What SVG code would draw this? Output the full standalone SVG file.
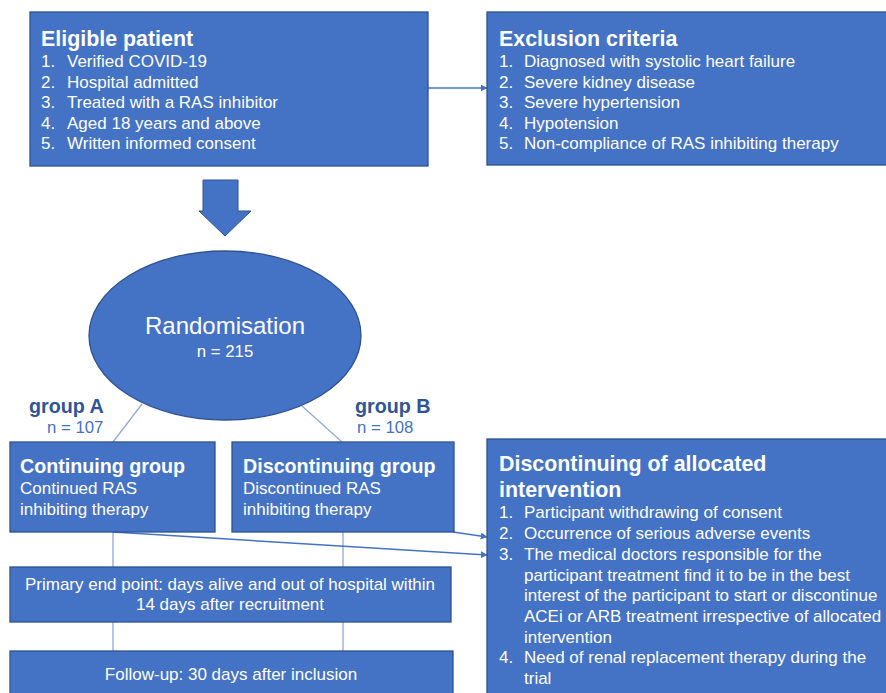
<svg xmlns="http://www.w3.org/2000/svg" width="886" height="693" viewBox="0 0 886 693">
<defs>
<marker id="ah" viewBox="0 0 10 10" refX="9" refY="5" markerWidth="7" markerHeight="7" orient="auto" markerUnits="userSpaceOnUse">
<path d="M0,0 L10,5 L0,10 z" fill="#4472C4"/>
</marker>
</defs>
<style>
.box{fill:#4472C4;stroke:#2F528F;stroke-width:1.3}
.t{font-family:"Liberation Sans",Arial,sans-serif;fill:#fff}
.h{font-size:21.4px;font-weight:bold}
.i{font-size:17px}
.g{font-size:19.7px;font-weight:bold}
.lbl{font-family:"Liberation Sans",Arial,sans-serif}
.c{stroke:#8FAADC;stroke-width:1.3;fill:none}
.a{stroke:#4472C4;stroke-width:1.5;fill:none;marker-end:url(#ah)}
</style>
<rect width="886" height="693" fill="#fff"/>
<g id="connectors">
<line class="a" x1="428" y1="88" x2="487" y2="88"/>
<line class="c" x1="142" y1="404" x2="113" y2="442"/>
<line class="c" x1="302" y1="406" x2="342" y2="442"/>
<line class="c" x1="113" y1="532" x2="113" y2="567"/>
<line class="c" x1="343" y1="532" x2="343" y2="567"/>
<line class="c" x1="113" y1="622" x2="113" y2="651"/>
<line class="c" x1="343" y1="622" x2="343" y2="651"/>
<line class="a" x1="113" y1="532" x2="487" y2="555"/>
<line class="a" x1="453" y1="532" x2="487" y2="537"/>
<path d="M203,180 L238,180 L238,211 L251,211 L225,236 L199,211 L203,211 z" fill="#4472C4" stroke="#2F528F" stroke-width="1"/>
</g>
<g id="eligible">
<rect class="box" x="30" y="12" width="398" height="154"/>
<text class="t h" x="41" y="46">Eligible patient</text>
<text class="t i" x="41" y="67">1.</text><text class="t i" x="67" y="67">Verified COVID-19</text>
<text class="t i" x="41" y="88">2.</text><text class="t i" x="67" y="88">Hospital admitted</text>
<text class="t i" x="41" y="108">3.</text><text class="t i" x="67" y="108">Treated with a RAS inhibitor</text>
<text class="t i" x="41" y="129">4.</text><text class="t i" x="67" y="129">Aged 18 years and above</text>
<text class="t i" x="41" y="149">5.</text><text class="t i" x="67" y="149">Written informed consent</text>
</g>
<g id="exclusion">
<rect class="box" x="487" y="12" width="400" height="153"/>
<text class="t h" x="499" y="46">Exclusion criteria</text>
<text class="t i" x="499" y="67">1.</text><text class="t i" x="524" y="67">Diagnosed with systolic heart failure</text>
<text class="t i" x="499" y="88">2.</text><text class="t i" x="524" y="88">Severe kidney disease</text>
<text class="t i" x="499" y="108">3.</text><text class="t i" x="524" y="108">Severe hypertension</text>
<text class="t i" x="499" y="129">4.</text><text class="t i" x="524" y="129">Hypotension</text>
<text class="t i" x="499" y="149">5.</text><text class="t i" x="524" y="149">Non-compliance of RAS inhibiting therapy</text>
</g>
<g id="randomisation">
<ellipse class="box" cx="225" cy="335.5" rx="136" ry="84.5"/>
<text class="t" x="225" y="334" font-size="24" text-anchor="middle">Randomisation</text>
<text class="t" x="225" y="357" font-size="16.8" text-anchor="middle">n = 215</text>
</g>
<g id="groupA-label">
<text class="lbl g" x="29" y="413" fill="#2F5597">group A</text>
<text class="lbl" x="47" y="433" font-size="16.8" fill="#4472C4">n = 107</text>
</g>
<g id="groupB-label">
<text class="lbl g" x="355" y="413" fill="#2F5597">group B</text>
<text class="lbl" x="357" y="433" font-size="16.8" fill="#4472C4">n = 108</text>
</g>
<g id="continuing">
<rect class="box" x="10" y="442" width="205" height="90"/>
<text class="t g" x="20" y="473">Continuing group</text>
<text class="t i" x="20" y="494">Continued RAS</text>
<text class="t i" x="20" y="515">inhibiting therapy</text>
</g>
<g id="discontinuing">
<rect class="box" x="232" y="442" width="222" height="90"/>
<text class="t g" x="243" y="473">Discontinuing group</text>
<text class="t i" x="243" y="494">Discontinued RAS</text>
<text class="t i" x="243" y="515">inhibiting therapy</text>
</g>
<g id="discontinuation-criteria">
<rect class="box" x="487" y="439" width="400" height="260"/>
<text class="t h" x="499" y="471">Discontinuing of allocated</text>
<text class="t h" x="499" y="497">intervention</text>
<text class="t i" x="499" y="518">1.</text><text class="t i" x="524" y="518">Participant withdrawing of consent</text>
<text class="t i" x="499" y="539">2.</text><text class="t i" x="524" y="539">Occurrence of serious adverse events</text>
<text class="t i" x="499" y="560">3.</text><text class="t i" x="524" y="560">The medical doctors responsible for the</text>
<text class="t i" x="524" y="581">participant treatment find it to be in the best</text>
<text class="t i" x="524" y="601">interest of the participant to start or discontinue</text>
<text class="t i" x="524" y="622">ACEi or ARB treatment irrespective of allocated</text>
<text class="t i" x="524" y="643">intervention</text>
<text class="t i" x="499" y="663">4.</text><text class="t i" x="524" y="663">Need of renal replacement therapy during the</text>
<text class="t i" x="524" y="684">trial</text>
</g>
<g id="primary-endpoint">
<rect class="box" x="10" y="567" width="441" height="55"/>
<text class="t i" x="230" y="590" text-anchor="middle">Primary end point: days alive and out of hospital within</text>
<text class="t i" x="230" y="610" text-anchor="middle">14 days after recruitment</text>
</g>
<g id="follow-up">
<rect class="box" x="10" y="651" width="443" height="50"/>
<text class="t i" x="231" y="680" text-anchor="middle">Follow-up: 30 days after inclusion</text>
</g>
</svg>
